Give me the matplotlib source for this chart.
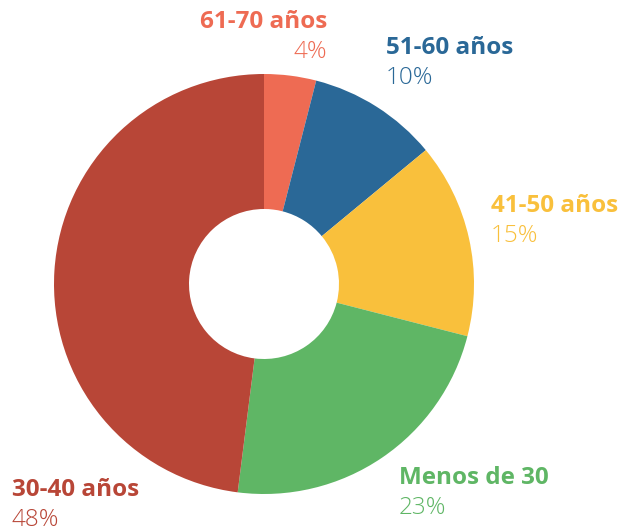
import matplotlib
matplotlib.use('Agg')
import matplotlib.pyplot as plt

# Data (clockwise from top)
labels = ['61-70 años', '51-60 años', '41-50 años', 'Menos de 30', '30-40 años']
values = [4, 10, 15, 23, 48]
colors = ['#EE6B53', '#2A6897', '#F9C03C', '#5FB665', '#B84637']

# label anchor positions in pixels (x, y from top), and alignment
label_pos = [(327, 22, 'right'), (386, 48, 'left'), (491, 206, 'left'),
             (399, 478, 'left'), (12, 490, 'left')]

W, H = 638, 526
fig = plt.figure(figsize=(W / 100, H / 100), dpi=100)
ax = fig.add_axes([0, 0, 1, 1])

cx, cy, r_out, r_in = 264, H - 284, 210, 75
ax.pie(values, colors=colors, startangle=90, counterclock=False,
       center=(cx, cy), radius=r_out, frame=True,
       wedgeprops=dict(width=r_out - r_in, linewidth=0))
ax.set_xlim(0, W)
ax.set_ylim(0, H)
ax.set_aspect('equal')
ax.axis('off')

for lab, val, col, (x, y, ha) in zip(labels, values, colors, label_pos):
    ax.text(x, H - y, lab, color=col, fontsize=17.5, fontweight='bold',
            family='Open Sans', ha=ha, va='center')
    ax.text(x, H - y - 30, '{}%'.format(val), color=col, fontsize=17.5,
            fontweight='light', family='Open Sans', ha=ha, va='center')

fig.savefig('out.png', dpi=100)
